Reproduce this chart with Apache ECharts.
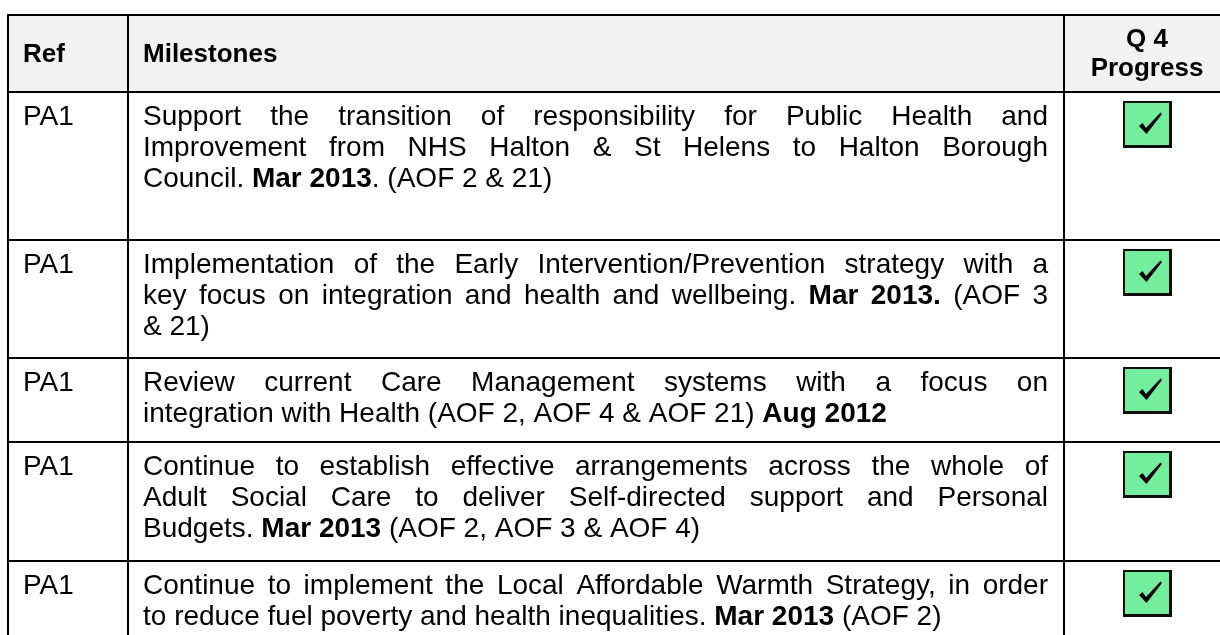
<!DOCTYPE html>
<html><head><meta charset="utf-8">
<script src="https://cdn.jsdelivr.net/npm/echarts@6/dist/echarts.min.js"></script>
<style>html,body{margin:0;padding:0;background:#fff}#c{width:1220px;height:635px}</style>
</head><body><div id="c"></div>
<script>
// ---------------- data ----------------
const headers = ['Ref', 'Milestones', 'Q 4\nProgress'];
const refs = ['PA1', 'PA1', 'PA1', 'PA1', 'PA1'];
const milestones = [
  ['Support the transition of responsibility for Public Health and',
   'Improvement from NHS Halton & St Helens to Halton Borough',
   'Council. **Mar 2013**. (AOF 2 & 21)',
   ''],
  ['Implementation of the Early Intervention/Prevention strategy with a',
   'key focus on integration and health and wellbeing. **Mar 2013.** (AOF 3',
   '& 21)'],
  ['Review current Care Management systems with a focus on',
   'integration with Health (AOF 2, AOF 4 & AOF 21) **Aug 2012**'],
  ['Continue to establish effective arrangements across the whole of',
   'Adult Social Care to deliver Self-directed support and Personal',
   'Budgets. **Mar 2013** (AOF 2, AOF 3 & AOF 4)'],
  ['Continue to implement the Local Affordable Warmth Strategy, in order',
   'to reduce fuel poverty and health inequalities. **Mar 2013** (AOF 2)']
];
const progress = ['done', 'done', 'done', 'done', 'done'];

// ---------------- layout / style ----------------
const FONT = "'Liberation Sans', Arial, sans-serif";
const FS = 28, HFS = 26, LH = 31;
const ROW_H = [148, 118, 84, 119, 90];
const COLS = [8, 128, 1064, 1230];
const TOP = 15, HEAD_H = 77;
const TEXT_L = 143, TEXT_R = 1048, REF_X = 23;
const BASE_OFF = 35;
const W = 1220, H = 635;

const rowTops = [];
let yy = TOP + HEAD_H;
ROW_H.forEach(h => { rowTops.push(yy); yy += h; });
const rowBottoms = ROW_H.map((h, i) => rowTops[i] + h);

const mctx = document.createElement('canvas').getContext('2d');
function tw(t, bold, fs) { mctx.font = (bold ? 'bold ' : '') + fs + 'px ' + FONT; return mctx.measureText(t).width; }

function toWords(line) {
  const parts = line.split('**');
  const words = []; let cur = [];
  parts.forEach((p, i) => {
    const bold = i % 2 === 1;
    p.split(' ').forEach((tok, j) => {
      if (j > 0) { if (cur.length) words.push(cur); cur = []; }
      if (tok) cur.push({ t: tok, bold });
    });
  });
  if (cur.length) words.push(cur);
  return words;
}

function txt(P, x, y, s, bold, fs, align) {
  const p = P(x, y);
  return { type: 'text', x: p[0], y: p[1], silent: true,
    style: { text: s, font: (bold ? 'bold ' : '') + fs + 'px ' + FONT, fill: '#000',
      align: align || 'left', verticalAlign: 'middle' } };
}
function hline(P, x1, x2, y) {
  const a = P(x1, y), b = P(x2, y);
  return { type: 'line', silent: true, shape: { x1: a[0], y1: a[1], x2: b[0], y2: b[1] }, style: { stroke: '#000', lineWidth: 2 } };
}
function vline(P, x, y1, y2) {
  const a = P(x, y1), b = P(x, y2);
  return { type: 'line', silent: true, shape: { x1: a[0], y1: a[1], x2: b[0], y2: b[1] }, style: { stroke: '#000', lineWidth: 2 } };
}

function renderItem(params, api) {
  const i = api.value(0);
  const P = (x, y) => api.coord([x, y]);
  const ch = [];
  const midY = (b) => b - 0.35 * FS;
  if (i === 0) {
    const a = P(COLS[0], TOP), b = P(COLS[3], TOP + HEAD_H);
    ch.push({ type: 'rect', silent: true, shape: { x: a[0], y: a[1], width: b[0] - a[0], height: b[1] - a[1] }, style: { fill: '#F2F2F2' } });
    const cy = TOP + HEAD_H / 2 + 1;
    ch.push(txt(P, REF_X, cy, headers[0], true, HFS));
    ch.push(txt(P, TEXT_L, cy, headers[1], true, HFS));
    const hl = headers[2].split('\n');
    hl.forEach((s, k) => ch.push(txt(P, (COLS[2] + COLS[3]) / 2, cy + (k - (hl.length - 1) / 2) * 29, s, true, HFS, 'center')));
    ch.push(hline(P, COLS[0] - 1, COLS[3], TOP));
    ch.push(hline(P, COLS[0] - 1, COLS[3], TOP + HEAD_H));
    COLS.forEach(x => ch.push(vline(P, x, TOP - 1, H + 20)));
  } else {
    const r = i - 1;
    const top = rowTops[r];
    ch.push(txt(P, REF_X, midY(top + BASE_OFF), refs[r], false, FS));
    const lines = milestones[r];
    let last = lines.length - 1;
    while (last > 0 && !lines[last]) last--;
    const sp = tw(' ', false, FS);
    lines.forEach((line, k) => {
      if (!line) return;
      const words = toWords(line);
      const widths = words.map(wd => wd.reduce((s, pc) => s + tw(pc.t, pc.bold, FS), 0));
      const total = widths.reduce((s, v) => s + v, 0);
      const gap = (k < last && words.length > 1) ? (TEXT_R - TEXT_L - total) / (words.length - 1) : sp;
      let x = TEXT_L;
      const y = midY(top + BASE_OFF + k * LH);
      words.forEach((wd, j) => {
        let px = x;
        wd.forEach(pc => { ch.push(txt(P, px, y, pc.t, pc.bold, FS)); px += tw(pc.t, pc.bold, FS); });
        x += widths[j] + gap;
      });
    });
    if (progress[r] === 'done') {
      const bx = (COLS[2] + COLS[3]) / 2 - 24, by = top + 9;
      const a = P(bx, by), b = P(bx + 49, by + 47);
      ch.push({ type: 'rect', silent: true, shape: { x: a[0], y: a[1], width: b[0] - a[0], height: b[1] - a[1] }, style: { fill: '#0d0d0d' } });
      const c = P(bx + 2, by + 2), d = P(bx + 46, by + 44);
      ch.push({ type: 'rect', silent: true, shape: { x: c[0], y: c[1], width: d[0] - c[0], height: d[1] - c[1] }, style: { fill: '#72EE9C' } });
      const tick = [[16, 25], [19.5, 22], [23, 27], [37.5, 11.5], [39, 13], [23.5, 33]].map(p => P(bx + p[0], by + p[1]));
      ch.push({ type: 'polygon', silent: true, shape: { points: tick }, style: { fill: '#000' } });
    }
    if (rowBottoms[r] < H) ch.push(hline(P, COLS[0] - 1, COLS[3], rowBottoms[r]));
  }
  return { type: 'group', children: ch };
}

const chart = echarts.init(document.getElementById('c'), null, { renderer: 'canvas' });
chart.setOption({
  animation: false,
  backgroundColor: '#fff',
  grid: { left: 0, right: 0, top: 0, bottom: 0 },
  xAxis: { type: 'value', min: 0, max: W, show: false },
  yAxis: { type: 'value', min: 0, max: H, inverse: true, show: false },
  tooltip: { show: false },
  series: [{
    type: 'custom',
    clip: false,
    renderItem: renderItem,
    encode: { x: 1, y: 2 },
    data: [0].concat(refs.map((_, i) => i + 1)).map(i => [i, 0, 0])
  }]
});
</script></body></html>
